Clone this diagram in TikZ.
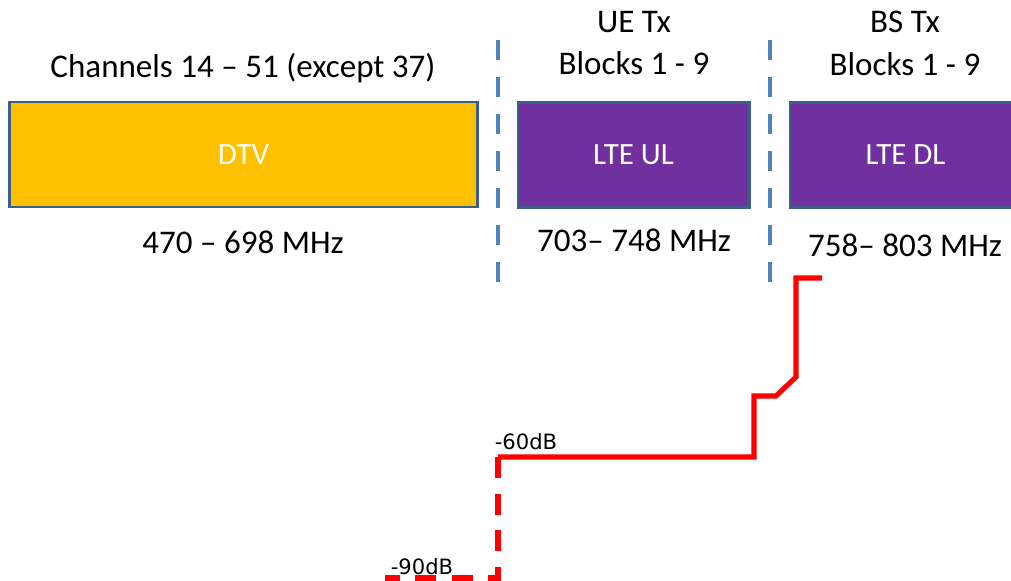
\documentclass[tikz,border=0pt]{standalone}
\usepackage{fontspec}
\setmainfont{Carlito}
\newfontfamily\dbfont{DejaVu Sans}
\definecolor{dtvorange}{HTML}{FFC000}
\definecolor{ltepurple}{HTML}{7030A0}
\definecolor{boxedge}{HTML}{3A5F8C}
\definecolor{sepblue}{HTML}{4F81BD}
\begin{document}
\begin{tikzpicture}[x=0.025cm, y=-0.025cm,
    band/.style={draw=boxedge, line width=2.1pt, minimum height=2.625cm, text=white, font=\fontsize{22}{26}\selectfont},
    lbl/.style={font=\fontsize{23.5}{30.5}\selectfont},
    sep/.style={draw=sepblue, line width=3.5pt, dash pattern=on 14.2pt off 12.1pt},
    mask/.style={draw=red, line width=3.6pt}]
    \clip (0,0) rectangle (1011,580);
    \node[band, fill=dtvorange, minimum width=11.675cm] (dtv) at (243.5,154.5) {DTV};
    \node[band, fill=ltepurple, minimum width=5.775cm] (ul) at (633.5,155) {LTE UL};
    \node[band, fill=ltepurple, minimum width=5.775cm] (dl) at (905.5,155) {LTE DL};
    \node[lbl] (dtvtop) at (243,68) {Channels 14 -- 51 (except 37)};
    \node[lbl, align=center] (ultop) at (634,43) {UE Tx\\Blocks 1 - 9};
    \node[lbl, align=center] (dltop) at (905,43) {BS Tx\\Blocks 1 - 9};
    \node[lbl] (dtvf) at (243,242) {470 -- 698 MHz};
    \node[lbl] (ulf) at (634,240) {703-- 748 MHz};
    \node[lbl] (dlf) at (905,245) {758-- 803 MHz};
    \draw[sep] (498,40) -- (498,282);
    \draw[sep] (770,40) -- (770,282);
    % spectrum mask
    \coordinate (m0) at (822,278);
    \coordinate (m1) at (796,278);
    \coordinate (m2) at (796,377);
    \coordinate (m3) at (776,396);
    \coordinate (m4) at (754,396);
    \coordinate (m5) at (754,457);
    \coordinate (m6) at (498,457);
    \coordinate (m7) at (498,578);
    \coordinate (m8) at (385,578);
    \draw[mask] (m0) -- (m1) -- (m2) -- (m3) -- (m4) -- (m5) -- (m6);
    \draw[mask, dash pattern=on 15pt off 11pt] (m6) -- (m7) -- (m8);
    \node[font=\dbfont\fontsize{15}{18}\selectfont] (l60) at (526,442) {-60dB};
    \node[font=\dbfont\fontsize{15}{18}\selectfont] (l90) at (422,567) {-90dB};
\end{tikzpicture}
\end{document}
